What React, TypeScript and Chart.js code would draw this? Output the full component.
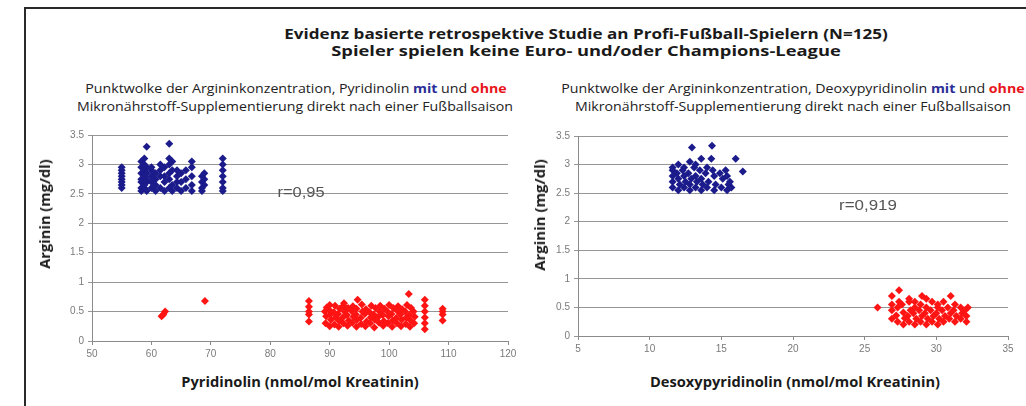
import React, { useEffect, useLayoutEffect, useRef, useState } from "react";
import { Chart, registerables } from "chart.js";

Chart.register(...registerables);

// ---- Data: Pyridinolin chart (x = Pyridinolin, y = Arginin) ----
const mitPyrX = [
  55, 55, 55, 55, 55, 55, 55, 55,
  58.3, 58.3, 58.3, 58.3, 58.3, 58.3, 58.3,
  58.8, 58.8, 58.8, 58.8, 58.8, 58.8,
  59.2, 59.2, 59.2, 59.2, 59.2, 59.2,
  60, 60, 60, 60, 60,
  60.7, 60.7, 60.7, 60.7,
  61.5, 61.5, 61.5, 61.5,
  62.2, 62.2, 62.2, 62.2,
  63, 63, 63, 63, 63, 63,
  63.5, 63.5, 63.5, 63.5,
  64.3, 64.3, 64.3, 64.3,
  65, 65, 65,
  65.8, 65.8, 65.8,
  66.8, 66.8, 66.8, 66.8, 66.8,
  68.5, 68.5, 68.5, 68.5,
  68.9, 68.9, 68.9,
  72, 72, 72, 72, 72, 72, 72,
];
const mitPyrY = [
  2.6, 2.65, 2.7, 2.75, 2.8, 2.85, 2.9, 2.95,
  2.55, 2.6, 2.7, 2.75, 2.85, 2.95, 3.05,
  2.6, 2.65, 2.8, 2.9, 3.0, 3.1,
  2.55, 2.7, 2.75, 2.85, 2.95, 3.3,
  2.6, 2.7, 2.8, 2.9, 2.95,
  2.55, 2.65, 2.75, 2.85,
  2.6, 2.8, 2.9, 3.0,
  2.55, 2.7, 2.8, 2.95,
  2.6, 2.75, 2.85, 3.0, 3.1, 3.35,
  2.55, 2.65, 2.9, 3.05,
  2.6, 2.7, 2.8, 2.9,
  2.55, 2.7, 2.85,
  2.6, 2.75, 2.9,
  2.55, 2.65, 2.8, 2.95, 3.05,
  2.55, 2.6, 2.7, 2.8,
  2.65, 2.75, 2.85,
  2.55, 2.6, 2.7, 2.8, 2.9, 3.0, 3.1,
];
const ohnePyrX = [
  61.7, 62, 62.3,
  69,
  86.5, 86.5, 86.5, 86.5, 86.5,
  89.3, 89.4, 89.2, 89.5,
  90, 90.2, 90.1, 89.9, 90,
  90.8, 91, 90.7, 90.9,
  91.5, 91.6, 91.4, 91.7,
  92.3, 92.2, 92.5, 92.3, 92.4,
  93, 93.2, 92.9, 93.1,
  93.8, 94, 93.7, 93.9,
  94.5, 94.6, 94.4, 94.5, 94.7,
  95.3, 95.2, 95.5, 95.4,
  96, 96.2, 95.9, 96.1,
  96.8, 96.9, 96.7, 97,
  97.5, 97.6, 97.4, 97.7,
  98.3, 98.2, 98.4, 98.5,
  99, 99.1, 98.9, 99.2,
  99.8, 99.9, 99.7, 100,
  100.5, 100.6, 100.4, 100.7,
  101.3, 101.2, 101.4, 101.5,
  102, 102.1, 101.9, 102.2,
  102.8, 102.9, 102.7, 103,
  103.3,
  103.5, 103.6, 103.4, 103.7,
  104.2, 104.3, 104.1,
  106, 106, 106, 106, 106, 106,
  109, 109, 109, 109,
];
const ohnePyrY = [
  0.42, 0.45, 0.5,
  0.68,
  0.33, 0.45, 0.5, 0.58, 0.68,
  0.3, 0.42, 0.5, 0.57,
  0.25, 0.36, 0.45, 0.53, 0.61,
  0.28, 0.4, 0.49, 0.6,
  0.24, 0.34, 0.46, 0.55,
  0.3, 0.4, 0.5, 0.6, 0.64,
  0.26, 0.35, 0.44, 0.56,
  0.31, 0.41, 0.51, 0.59,
  0.24, 0.36, 0.45, 0.55, 0.7,
  0.29, 0.39, 0.5, 0.62,
  0.25, 0.33, 0.46, 0.54,
  0.3, 0.4, 0.49, 0.6,
  0.23, 0.36, 0.45, 0.56,
  0.31, 0.41, 0.5, 0.6,
  0.26, 0.34, 0.44, 0.55,
  0.3, 0.42, 0.5, 0.61,
  0.24, 0.35, 0.46, 0.56,
  0.3, 0.39, 0.51, 0.59,
  0.25, 0.36, 0.45, 0.54,
  0.29, 0.4, 0.5, 0.61,
  0.8,
  0.24, 0.35, 0.44, 0.56,
  0.3, 0.41, 0.5,
  0.2, 0.3, 0.4, 0.5, 0.6, 0.7,
  0.35, 0.45, 0.5, 0.55,
];

// ---- Data: Desoxypyridinolin chart (x = Desoxypyridinolin, y = Arginin) ----
const mitDpdX = [
  11.6, 11.6, 11.6, 11.6, 11.6,
  12.0, 12.1, 12.0, 11.9, 12.0,
  12.4, 12.5, 12.4, 12.3, 12.4,
  12.8, 12.8, 12.9, 12.7, 12.8,
  12.95,
  13.2, 13.3, 13.2, 13.1, 13.2,
  13.6, 13.7, 13.6, 13.5, 13.6,
  14.0, 14.1, 13.9, 14.0,
  14.3, 14.35,
  14.5, 14.6, 14.5, 14.4,
  15.0, 15.1, 14.9,
  15.4, 15.5, 15.4, 15.3,
  15.7, 15.6,
  16.0,
  16.5,
];
const mitDpdY = [
  2.6, 2.7, 2.8, 2.9, 2.95,
  2.55, 2.65, 2.75, 2.85, 3.0,
  2.6, 2.7, 2.8, 2.9, 2.95,
  2.55, 2.65, 2.75, 2.85, 3.05,
  3.3,
  2.6, 2.7, 2.8, 2.95, 3.0,
  2.55, 2.65, 2.75, 2.9, 3.1,
  2.6, 2.7, 2.85, 2.95,
  3.1, 3.33,
  2.55, 2.65, 2.8, 2.9,
  2.6, 2.75, 2.85,
  2.55, 2.65, 2.8, 2.9,
  2.6, 2.7,
  3.1,
  2.88,
];
const ohneDpdX = [
  25.9,
  26.9, 26.9, 26.9, 26.9,
  27.3, 27.2, 27.3, 27.4,
  27.4,
  27.7, 27.8, 27.7, 27.6,
  28.1, 28.0, 28.2, 28.1, 28.1,
  28.5, 28.6, 28.4, 28.5, 28.5,
  28.9, 29.0, 28.8, 28.9, 29.0,
  29.3, 29.4, 29.2, 29.3, 29.3,
  29.7, 29.8, 29.6, 29.7,
  30.1, 30.2, 30.0, 30.1, 30.1,
  30.5, 30.6, 30.4, 30.5,
  30.9, 31.0, 30.8, 31.0,
  31.3, 31.4, 31.2, 31.3,
  31.7, 31.8, 31.7,
  32.1, 32.1, 32.0, 32.2,
];
const ohneDpdY = [
  0.5,
  0.3, 0.45, 0.55, 0.7,
  0.25, 0.36, 0.5, 0.6,
  0.8,
  0.2, 0.31, 0.41, 0.55,
  0.25, 0.35, 0.45, 0.6, 0.65,
  0.2, 0.3, 0.4, 0.5, 0.6,
  0.25, 0.35, 0.45, 0.55, 0.7,
  0.2, 0.3, 0.4, 0.5, 0.65,
  0.25, 0.35, 0.45, 0.6,
  0.2, 0.3, 0.4, 0.5, 0.55,
  0.25, 0.35, 0.45, 0.6,
  0.3, 0.4, 0.5, 0.7,
  0.25, 0.35, 0.45, 0.55,
  0.3, 0.4, 0.5,
  0.25, 0.35, 0.45, 0.5,
];

const pyrRange = [50, 120, 10];
const dpdRange = [5, 35, 5];
const argininRange = [0, 3.5, 0.5];

const BLUE = "#1b1b8c";
const RED = "#ff1414";
const TEXT_FONT = "'Open Sans', 'DejaVu Sans', sans-serif";

function pts(xs: number[], ys: number[]) {
  return xs.map((x, i) => ({ x, y: ys[i] }));
}

function makeChart(
  canvas: HTMLCanvasElement,
  mit: { x: number; y: number }[],
  ohne: { x: number; y: number }[],
  xr: number[],
  yWidth: number,
  xHeight: number,
  padTop: number,
  padRight: number
) {
  const tickFont = { family: "'Liberation Sans', Arial, sans-serif", size: 10 };
  const fmt = (v: any) => String(Math.round(Number(v) * 10) / 10);
  return new Chart(canvas, {
    type: "scatter",
    data: {
      datasets: [
        {
          label: "mit",
          data: mit,
          pointStyle: "rectRot",
          pointRadius: 4,
          pointHoverRadius: 4,
          backgroundColor: BLUE,
          borderColor: BLUE,
          borderWidth: 0,
        },
        {
          label: "ohne",
          data: ohne,
          pointStyle: "rectRot",
          pointRadius: 4,
          pointHoverRadius: 4,
          backgroundColor: RED,
          borderColor: RED,
          borderWidth: 0,
        },
      ],
    },
    options: {
      responsive: false,
      animation: false,
      events: [],
      layout: { padding: { top: padTop, right: padRight, left: 0, bottom: 0 } },
      plugins: { legend: { display: false }, tooltip: { enabled: false }, title: { display: false } },
      scales: {
        x: {
          type: "linear",
          min: xr[0],
          max: xr[1],
          afterFit: (s: any) => {
            s.height = xHeight;
          },
          ticks: { stepSize: xr[2], color: "#7a7a7a", font: tickFont, padding: 3, maxRotation: 0, callback: fmt },
          grid: { drawOnChartArea: false, drawTicks: true, tickLength: 4, color: "#8a8a8a" },
          border: { display: true, color: "#8a8a8a", width: 1 },
        },
        y: {
          type: "linear",
          min: argininRange[0],
          max: argininRange[1],
          afterFit: (s: any) => {
            s.width = yWidth;
          },
          ticks: { stepSize: argininRange[2], color: "#7a7a7a", font: tickFont, padding: 4, callback: fmt },
          grid: { color: "#969696", lineWidth: 1, drawTicks: true, tickLength: 4 },
          border: { display: true, color: "#8a8a8a", width: 1 },
        },
      },
    },
  });
}

function FitText(props: {
  cx: number;
  cy: number;
  w: number;
  rotate?: boolean;
  style?: React.CSSProperties;
  children: React.ReactNode;
}) {
  const ref = useRef<HTMLDivElement>(null);
  const [s, setS] = useState(1);
  useLayoutEffect(() => {
    if (ref.current) {
      const nat = ref.current.offsetWidth;
      if (nat > 0) setS(props.w / nat);
    }
  }, [props.w]);
  return (
    <div
      ref={ref}
      style={{
        position: "absolute",
        left: props.cx,
        top: props.cy,
        whiteSpace: "nowrap",
        lineHeight: 1,
        fontFamily: TEXT_FONT,
        color: "#1a1a1a",
        transform: `translate(-50%, -50%) ${props.rotate ? "rotate(-90deg)" : ""} scaleX(${s})`,
        ...props.style,
      }}
    >
      {props.children}
    </div>
  );
}

export default function App() {
  const leftRef = useRef<HTMLCanvasElement>(null);
  const rightRef = useRef<HTMLCanvasElement>(null);

  useEffect(() => {
    const c1 = makeChart(
      leftRef.current!,
      pts(mitPyrX, mitPyrY),
      pts(ohnePyrX, ohnePyrY),
      pyrRange,
      72,
      29,
      10,
      12
    );
    const c2 = makeChart(
      rightRef.current!,
      pts(mitDpdX, mitDpdY),
      pts(ohneDpdX, ohneDpdY),
      dpdRange,
      58,
      30,
      10,
      12
    );
    return () => {
      c1.destroy();
      c2.destroy();
    };
  }, []);

  const titleStyle: React.CSSProperties = { fontWeight: 700, fontSize: 15 };
  const subStyle: React.CSSProperties = { fontWeight: 400, fontSize: 13, color: "#222" };
  const axisStyle: React.CSSProperties = { fontWeight: 700, fontSize: 14 };
  const rStyle: React.CSSProperties = {
    fontFamily: "'Liberation Sans', Arial, sans-serif",
    fontSize: 14,
    color: "#555",
  };
  const mitSpan = <span style={{ color: "#2b2e96", fontWeight: 700 }}>mit</span>;
  const ohneSpan = <span style={{ color: "#e8141b", fontWeight: 700 }}>ohne</span>;

  return (
    <div
      style={{
        position: "fixed",
        left: 0,
        top: 0,
        width: 1026,
        height: 406,
        background: "#fff",
        overflow: "hidden",
      }}
    >
      <div
        style={{
          position: "absolute",
          left: 24,
          top: 7,
          right: 0,
          bottom: 0,
          borderLeft: "2px solid #2a2a2a",
          borderTop: "2px solid #2a2a2a",
        }}
      />
      <FitText cx={586} cy={33} w={603} style={titleStyle}>
        Evidenz basierte retrospektive Studie an Profi-Fußball-Spielern (N=125)
      </FitText>
      <FitText cx={586} cy={50} w={509} style={titleStyle}>
        Spieler spielen keine Euro- und/oder Champions-League
      </FitText>

      <FitText cx={296} cy={88} w={421} style={subStyle}>
        Punktwolke der Argininkonzentration, Pyridinolin {mitSpan} und {ohneSpan}
      </FitText>
      <FitText cx={295} cy={106} w={436} style={subStyle}>
        Mikronährstoff-Supplementierung direkt nach einer Fußballsaison
      </FitText>
      <FitText cx={793} cy={88} w={463} style={subStyle}>
        Punktwolke der Argininkonzentration, Deoxypyridinolin {mitSpan} und {ohneSpan}
      </FitText>
      <FitText cx={793} cy={106} w={436} style={subStyle}>
        Mikronährstoff-Supplementierung direkt nach einer Fußballsaison
      </FitText>

      <canvas
        ref={leftRef}
        width={500}
        height={245}
        style={{ position: "absolute", left: 20, top: 125, width: 500, height: 245 }}
      />
      <canvas
        ref={rightRef}
        width={500}
        height={240}
        style={{ position: "absolute", left: 520, top: 126, width: 500, height: 240 }}
      />

      <FitText cx={45} cy={214} w={110} rotate style={axisStyle}>
        Arginin (mg/dl)
      </FitText>
      <FitText cx={540} cy={215} w={112} rotate style={axisStyle}>
        Arginin (mg/dl)
      </FitText>
      <FitText cx={300} cy={382} w={238} style={axisStyle}>
        Pyridinolin (nmol/mol Kreatinin)
      </FitText>
      <FitText cx={795} cy={382} w={290} style={axisStyle}>
        Desoxypyridinolin (nmol/mol Kreatinin)
      </FitText>

      <FitText cx={301} cy={192} w={47} style={rStyle}>
        r=0,95
      </FitText>
      <FitText cx={868} cy={205} w={58} style={rStyle}>
        r=0,919
      </FitText>
    </div>
  );
}
